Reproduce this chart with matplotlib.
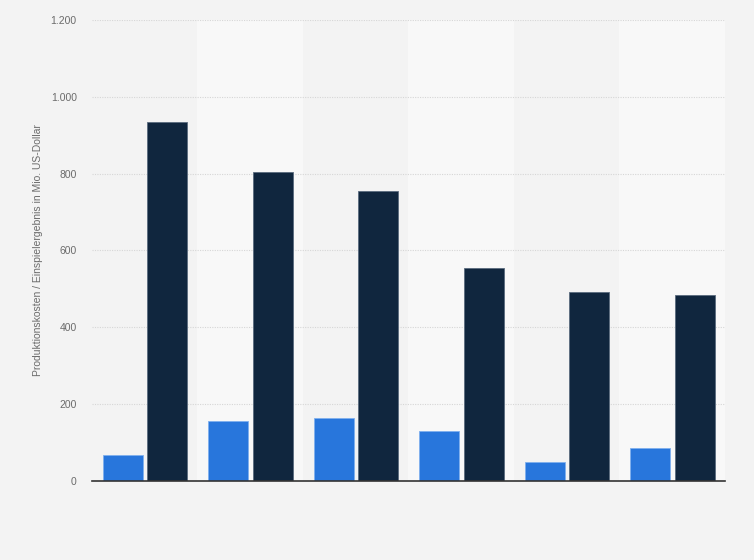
import matplotlib
matplotlib.use("Agg")
import matplotlib.pyplot as plt
import numpy as np

plt.rcParams["font.family"] = ["Liberation Sans", "DejaVu Sans"]

categories = ["1", "2", "3", "4", "5", "6"]
produktionskosten = [68, 156, 162, 128, 48, 86]
einspielergebnis = [934, 804, 754, 553, 491, 483]
yticks = [0, 200, 400, 600, 800, 1000, 1200]
ytick_labels = ["0", "200", "400", "600", "800", "1.000", "1.200"]
ylabel = "Produktionskosten / Einspielergebnis in Mio. US-Dollar"

bg = "#f3f3f3"
band = "#f8f8f8"
blue = "#2876dc"
dark = "#10263e"

fig = plt.figure(figsize=(7.54, 5.6), dpi=100, facecolor=bg)
ax = fig.add_axes([0.122, 0.1418, 0.8395, 0.8219])
ax.set_facecolor(bg)

x = np.arange(len(categories))
for i in x:
    if i % 2 == 1:
        ax.axvspan(i - 0.5, i + 0.5, color=band, zorder=0, lw=0)

w = 0.38
ax.bar(x - 0.21, produktionskosten, width=w, color=blue, edgecolor="#7fb0ee",
       linewidth=0.6, zorder=3)
ax.bar(x + 0.215, einspielergebnis, width=w, color=dark, edgecolor="#5a6b7e",
       linewidth=0.6, zorder=3)

ax.set_xlim(-0.5, len(categories) - 0.5)
ax.set_ylim(0, 1200)
ax.set_yticks(yticks)
ax.set_yticklabels(ytick_labels)
ax.set_xticks([])
ax.tick_params(axis="y", length=0, pad=11, labelsize=7.5, labelcolor="#6b6b6b")
ax.yaxis.grid(True, linestyle=(0, (1, 1.2)), color="#d6d6d6", linewidth=0.8, zorder=1)
ax.set_axisbelow(True)
for s in ["top", "right", "left"]:
    ax.spines[s].set_visible(False)
ax.spines["bottom"].set_color("#333333")
ax.spines["bottom"].set_linewidth(1.2)
ax.spines["bottom"].set_zorder(4)

ax.set_ylabel(ylabel, fontsize=7.5, color="#6b6b6b")
ax.yaxis.set_label_coords(-0.077, 0.5)

fig.savefig("out.png", dpi=100, facecolor=bg)
